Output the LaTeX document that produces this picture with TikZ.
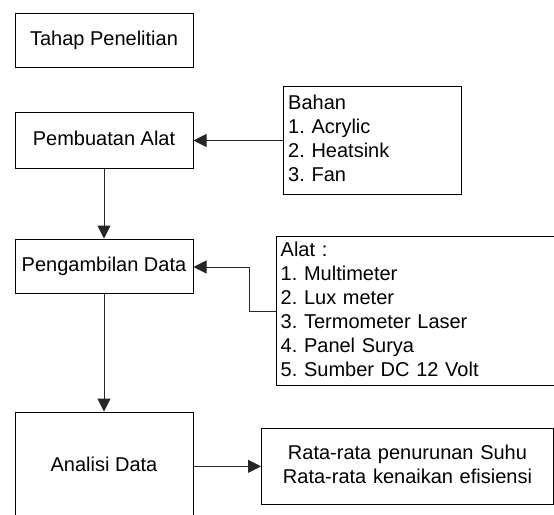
\documentclass[tikz,border=0pt]{standalone}
\usepackage{fontspec}
\setmainfont{Liberation Sans}
\frenchspacing
\usetikzlibrary{arrows.meta}
\tikzset{
  txt/.style={font=\fontsize{20}{24}\selectfont\frenchspacing},
  stagebox/.style={draw, line width=1pt, txt, minimum width=178pt, inner sep=0pt, text height=14.3pt, text depth=4pt},
  listbox/.style={draw, line width=1pt, txt, align=left, inner xsep=5pt, inner ysep=0pt, anchor=north west},
  arr/.style={line width=1pt, draw=black!85, -{Triangle[width=13pt,length=13pt]}}
}
\begin{document}
\begin{tikzpicture}[x=1pt,y=-1pt]
\useasboundingbox (0,0) rectangle (554,514);
\fill[white] (0,0) rectangle (554,514);
\clip (0,0) rectangle (554,514);

\node[stagebox, minimum height=54pt] (tahap) at (104,40) {Tahap Penelitian};
\node[stagebox, minimum height=56pt] (buat) at (104,140) {Pembuatan Alat};
\node[stagebox, minimum height=54pt] (ambil) at (104,266) {Pengambilan Data};
\node[stagebox, minimum height=108pt] (analisi) at (104,466) {Analisi Data};

\node[listbox, text width=168.3pt, text height=23pt, text depth=85pt] (bahan) at (282.7,86)
  {Bahan\\1. Acrylic\\2. Heatsink\\3. Fan};
\node[listbox, inner xsep=4.5pt, text width=271.3pt, text height=20pt, text depth=129pt] (alat) at (275.7,236)
  {Alat :\\1. Multimeter\\2. Lux meter\\3. Termometer Laser\\4. Panel Surya\\5. Sumber DC 12 Volt};
\node[draw, line width=1pt, txt, align=center, inner sep=0pt, text width=292pt, text height=31.3pt, text depth=45pt, anchor=north west] (rata) at (261,427.7)
  {Rata-rata penurunan Suhu\\Rata-rata kenaikan efisiensi};

\coordinate (k) at (249,267);

\draw[arr] (buat) -- (ambil);
\draw[arr] (ambil) -- (analisi);
\draw[arr] (bahan.west) -- (bahan.west -| buat.east);
\draw[arr] (alat.west) -| (k) -- (k -| ambil.east);
\draw[arr] (analisi.east |- rata.west) -- (rata.west);
\end{tikzpicture}
\end{document}
